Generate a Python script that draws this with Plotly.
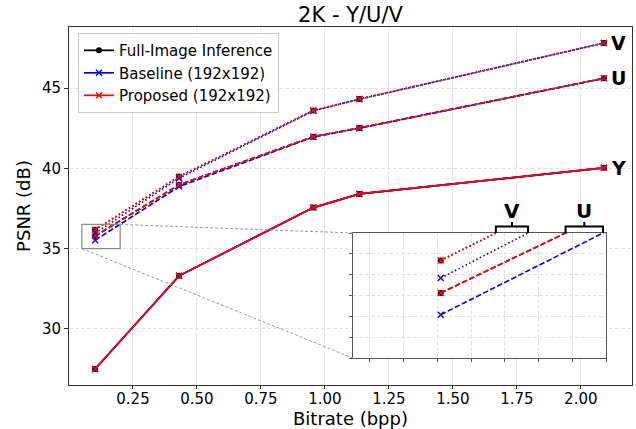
import plotly.graph_objects as go

# ---------------- data ----------------
bitrate = [0.102, 0.43, 0.955, 1.135, 2.09]
y_full = [27.50, 33.30, 37.55, 38.40, 40.03]
y_base = [27.50, 33.30, 37.55, 38.40, 40.03]
y_prop = [27.50, 33.30, 37.55, 38.40, 40.03]
u_full = [35.78, 38.97, 41.97, 42.51, 45.60]
u_base = [35.52, 38.86, 41.95, 42.50, 45.60]
u_prop = [35.78, 38.97, 41.97, 42.51, 45.60]
v_full = [36.17, 39.48, 43.60, 44.31, 47.80]
v_base = [35.96, 39.38, 43.58, 44.30, 47.80]
v_prop = [36.17, 39.48, 43.60, 44.31, 47.80]
methods = ["Full-Image Inference", "Baseline (192x192)", "Proposed (192x192)"]
channels = ["Y", "U", "V"]
x_ticks = [0.25, 0.50, 0.75, 1.00, 1.25, 1.50, 1.75, 2.00]
y_ticks = [30, 35, 40, 45]

# ---------------- layout constants ----------------
W, H = 636, 429
ML, MR, MT, MB = 69, 4, 27, 44
PW, PH = W - ML - MR, H - MT - MB
XR = [0.0, 2.2]
YR = [26.5, 48.8]
IXR = [0.05, 0.20]    # inset x range
IYR = [35.0, 36.5]    # inset y range
# inset position in pixels
IX0, IX1, IY0, IY1 = 353, 606, 233, 358
ixd = [(IX0 - ML) / PW, (IX1 - ML) / PW]
iyd = [(MT + PH - IY1) / PH, (MT + PH - IY0) / PH]

FONT = "DejaVu Sans"
colors = {"full": "black", "base": "blue", "prop": "red"}
dashes = {"Y": "solid", "U": "5.5px,2.4px", "V": "1.5px,2.5px"}

series = {
    "Y": {"full": y_full, "base": y_base, "prop": y_prop},
    "U": {"full": u_full, "base": u_base, "prop": u_prop},
    "V": {"full": v_full, "base": v_base, "prop": v_prop},
}
keys = ["full", "base", "prop"]

fig = go.Figure()


def marker_for(k):
    if k == "full":
        return dict(symbol="circle", size=6, color="black")
    return dict(symbol="x-thin", size=6, color=colors[k],
                line=dict(width=1.4, color=colors[k]))


for ch in channels:
    for k, name in zip(keys, methods):
        fig.add_trace(go.Scatter(
            x=bitrate, y=series[ch][k], mode="lines+markers",
            name=name, legendgroup=k, showlegend=(ch == "Y"),
            line=dict(color=colors[k], width=1.7, dash=dashes[ch]),
            marker=marker_for(k),
        ))

# inset traces
for ch in ["U", "V"]:
    for k in keys:
        fig.add_trace(go.Scatter(
            x=bitrate[:2], y=series[ch][k][:2], mode="lines+markers",
            showlegend=False, xaxis="x2", yaxis="y2",
            line=dict(color=colors[k], width=1.6, dash=dashes[ch]),
            marker=marker_for(k),
        ))

# channel labels at the right
for ch in channels:
    fig.add_annotation(x=bitrate[-1], y=series[ch]["full"][-1], text="<b>%s</b>" % ch,
                       showarrow=False, xanchor="left", xshift=5,
                       font=dict(family=FONT, size=19, color="black"))


def px_x(x):
    return (x - XR[0]) / (XR[1] - XR[0])


def px_y(y):
    return (y - YR[0]) / (YR[1] - YR[0])


# zoom rectangle in main axes
fig.add_shape(type="rect", xref="x", yref="y", x0=IXR[0], x1=IXR[1], y0=IYR[0], y1=IYR[1],
              line=dict(color="#8a8a8a", width=1.2))
# connector lines
fig.add_shape(type="line", xref="paper", yref="paper",
              x0=px_x(IXR[1]), y0=px_y(IYR[1]), x1=ixd[0], y1=iyd[1],
              line=dict(color="#9a9a9a", width=1, dash="3px,2px"))
fig.add_shape(type="line", xref="paper", yref="paper",
              x0=px_x(IXR[0]), y0=px_y(IYR[0]), x1=ixd[0], y1=iyd[0],
              line=dict(color="#9a9a9a", width=1, dash="3px,2px"))


def top_cross(xs, ys, ytop):
    return xs[0] + (ytop - ys[0]) * (xs[1] - xs[0]) / (ys[1] - ys[0])


def pyp(pix):
    return (MT + PH - pix) / PH


for ch, (ka, kb) in [("V", ("prop", "base")), ("U", ("prop", "base"))]:
    xa = top_cross(bitrate, series[ch][ka], IYR[1])
    xb = top_cross(bitrate, series[ch][kb], IYR[1])
    xm = (xa + xb) / 2
    yt, yb, yu = pyp(IY0), pyp(IY0 - 6.5), pyp(IY0 - 11)
    path = "M %f,%f L %f,%f L %f,%f L %f,%f M %f,%f L %f,%f" % (
        xa, yt, xa, yb, xb, yb, xb, yt, xm, yb, xm, yu)
    fig.add_shape(type="path", xref="x2", yref="paper", path=path,
                  line=dict(color="black", width=2))
    fig.add_annotation(x=xm, y=pyp(210.5), xref="x2", yref="paper", text="<b>%s</b>" % ch,
                       showarrow=False, font=dict(family=FONT, size=20, color="black"))

grid = dict(showgrid=True, gridcolor="#e2e2e2", griddash="4px,2px", gridwidth=1)

fig.update_layout(
    width=W, height=H,
    margin=dict(l=ML, r=MR, t=MT, b=MB, autoexpand=False),
    paper_bgcolor="white", plot_bgcolor="white",
    font=dict(family=FONT, size=15, color="black"),
    title=dict(text="2K - Y/U/V", x=0.5, xref="paper", xanchor="center",
               y=1 - 15 / H, yref="container", yanchor="middle", automargin=False,
               font=dict(family=FONT, size=21, color="black")),
    xaxis=dict(range=XR, tickvals=x_ticks, tickformat=".2f", automargin=False,
               tickfont=dict(size=15), ticklabelstandoff=-3,
               title=dict(text="Bitrate (bpp)", font=dict(size=18), standoff=0),
               showline=True, mirror=True, linecolor="#333", linewidth=1,
               ticks="outside", ticklen=3, tickcolor="#333", zeroline=False, **grid),
    yaxis=dict(range=YR, tickvals=y_ticks, automargin=False,
               title=dict(text="PSNR (dB)", font=dict(size=18), standoff=6),
               showline=True, mirror=True, linecolor="#333", linewidth=1,
               ticks="outside", ticklen=4, tickcolor="#333", zeroline=False, **grid),
    xaxis2=dict(domain=ixd, anchor="y2", range=IXR, dtick=0.02, tick0=0.0,
                showticklabels=False, showline=True, mirror=True, linecolor="#555",
                ticks="outside", ticklen=3, tickcolor="#555", zeroline=False, **grid),
    yaxis2=dict(domain=iyd, anchor="x2", range=IYR, dtick=0.25, tick0=35.0,
                showticklabels=False, showline=True, mirror=True, linecolor="#555",
                ticks="outside", ticklen=3, tickcolor="#555", zeroline=False, **grid),
    legend=dict(x=0.016, y=0.983, xanchor="left", yanchor="top",
                bgcolor="rgba(255,255,255,0.85)", bordercolor="#cccccc", borderwidth=1,
                font=dict(family=FONT, size=15), tracegroupgap=0),
    showlegend=True,
)

fig.write_html("out.html", config={"displayModeBar": False},
               post_script="document.body.style.margin='0px';document.body.style.overflow='hidden';")
